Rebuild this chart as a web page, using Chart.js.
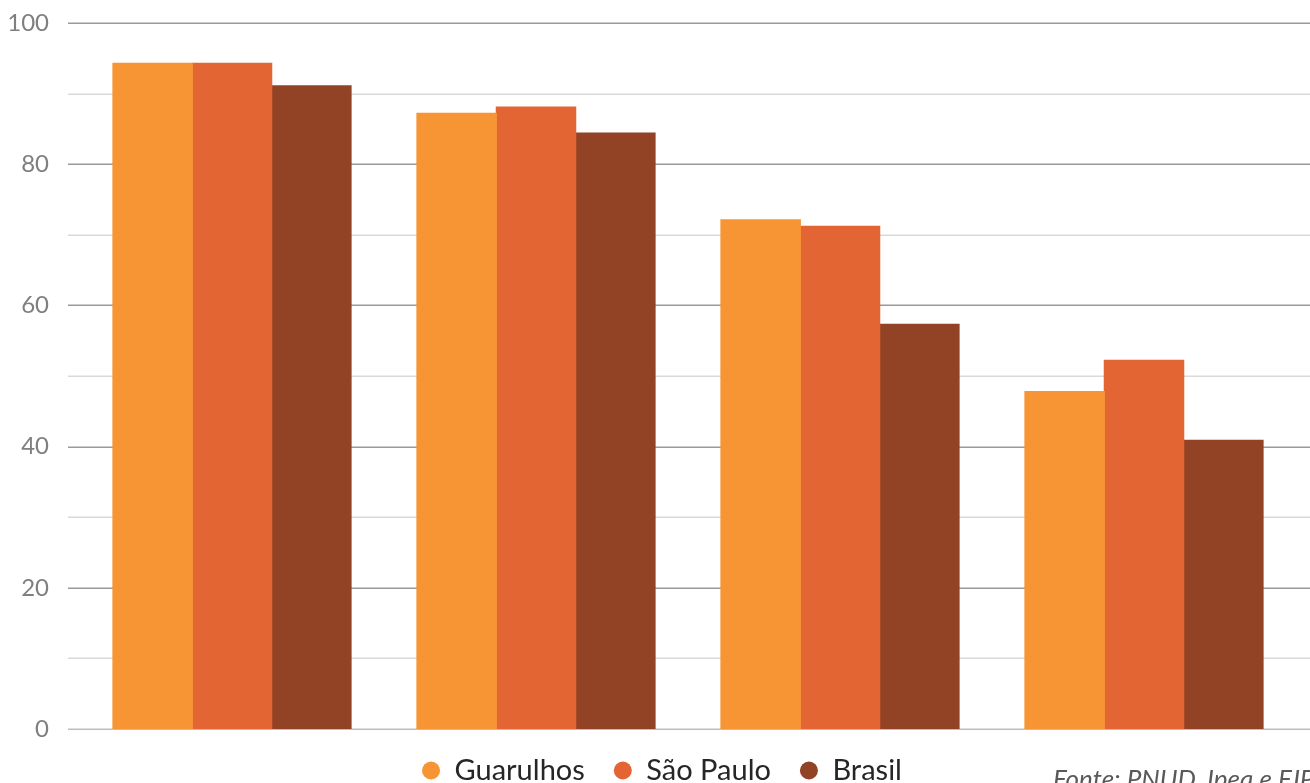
<!DOCTYPE html>
<html>
<head>
<meta charset="utf-8">
<script src="https://cdn.jsdelivr.net/npm/chart.js@4/dist/chart.umd.min.js"></script>
<style>
  html, body { margin: 0; padding: 0; background: #ffffff; overflow: hidden; }
  #wrap { position: relative; width: 1310px; height: 797px; }
</style>
</head>
<body>
<div id="wrap"><canvas id="chart"></canvas></div>
<script>
// Four groups, three series (values in %)
const categories = ['I', 'II', 'III', 'IV'];
const seriesNames = ['Guarulhos', 'São Paulo', 'Brasil'];
const guarulhos = [94.3, 87.2, 72.1, 47.8];
const saoPaulo  = [94.3, 88.1, 71.2, 52.2];
const brasil    = [91.1, 84.4, 57.3, 40.9];
const yLabels   = [0, 20, 40, 60, 80, 100];
const sourceNote = 'Fonte: PNUD, Ipea e FJP';

const colors = ['#F79433', '#E46534', '#924326'];
const FONT = 'Lato, "Open Sans", "Noto Sans", sans-serif';

// Horizontal gridlines running a little past the plot area on both sides
const gridPlugin = {
  id: 'wideGrid',
  beforeDatasetsDraw(chart) {
    const y = chart.scales.y;
    const ctx = chart.ctx;
    ctx.save();
    y.ticks.forEach(t => {
      const py = Math.round(y.getPixelForValue(t.value)) + 0.25;
      let color = '#d9d9d9';
      if (t.value === 0) color = '#bdbdbd';
      else if (yLabels.includes(t.value)) color = '#9a9a9a';
      ctx.strokeStyle = color;
      ctx.lineWidth = 1.5;
      ctx.beginPath();
      ctx.moveTo(68, py);
      ctx.lineTo(chart.width, py);
      ctx.stroke();
    });
    ctx.restore();
  }
};

// Nudge the legend row so it sits centred under the bars
const legendShift = {
  id: 'legendShift',
  afterLayout(chart) {
    const lg = chart.legend;
    if (lg) { lg.left += 14; lg.right += 14; lg.top -= 2; lg.bottom -= 2; }
  }
};

// Source line in the bottom-right corner
const sourcePlugin = {
  id: 'sourceNote',
  afterDraw(chart) {
    const ctx = chart.ctx;
    ctx.save();
    ctx.font = 'italic 26px ' + FONT;
    ctx.fillStyle = '#595959';
    ctx.textBaseline = 'alphabetic';
    ctx.textAlign = 'left';
    ctx.fillText(sourceNote, 1053, 788);
    ctx.restore();
  }
};

new Chart(document.getElementById('chart'), {
  type: 'bar',
  data: {
    labels: categories,
    datasets: [guarulhos, saoPaulo, brasil].map((vals, i) => ({
      label: seriesNames[i],
      data: vals,
      backgroundColor: colors[i],
      borderWidth: 0,
      inflateAmount: 0.6,
      categoryPercentage: 0.783,
      barPercentage: 1.0
    }))
  },
  options: {
    responsive: true,
    maintainAspectRatio: false,
    animation: false,
    layout: { padding: { top: 23, right: 14, left: 0, bottom: 0 } },
    scales: {
      x: {
        display: false,
        offset: true
      },
      y: {
        min: 0,
        max: 100,
        afterFit(scale) {
          scale.width = 80;
          scale.paddingTop = 0;
          scale.paddingBottom = 0;
        },
        grid: { display: false },
        border: { display: false },
        ticks: {
          stepSize: 10,
          autoSkip: false,
          padding: 23,
          color: '#7f7f7f',
          font: { family: FONT, size: 24 },
          callback: v => (yLabels.includes(v) ? String(v) : '')
        }
      }
    },
    plugins: {
      tooltip: { enabled: false },
      legend: {
        position: 'bottom',
        labels: {
          usePointStyle: true,
          pointStyle: 'circle',
          boxHeight: 12.73,
          pointStyleWidth: 18,
          padding: 29,
          color: '#262626',
          font: { family: FONT, size: 29 }
        }
      }
    }
  },
  plugins: [gridPlugin, legendShift, sourcePlugin]
});
</script>
</body>
</html>
